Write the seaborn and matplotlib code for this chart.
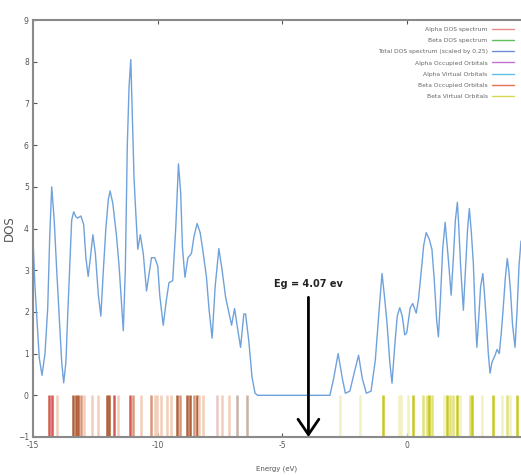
import matplotlib
matplotlib.use("Agg")
import matplotlib.pyplot as plt
import seaborn as sns
import pandas as pd
from matplotlib.lines import Line2D

# ---- data ----
energy = [-15.00, -14.92, -14.85, -14.75, -14.64, -14.52, -14.41, -14.33, -14.25, -14.15,
          -14.05, -13.95, -13.85, -13.77, -13.68, -13.61, -13.52, -13.45, -13.37, -13.28,
          -13.21, -13.08, -12.97, -12.88, -12.79, -12.70, -12.60, -12.50, -12.38, -12.28,
          -12.18, -12.08, -11.98, -11.91, -11.80, -11.65, -11.55, -11.45, -11.38, -11.30,
          -11.22, -11.15, -11.08, -11.01, -10.95, -10.90, -10.80, -10.70, -10.58, -10.45,
          -10.35, -10.25, -10.12, -10.00, -9.92, -9.78, -9.65, -9.55, -9.40, -9.28,
          -9.17, -9.08, -9.01, -8.91, -8.79, -8.65, -8.55, -8.42, -8.30, -8.21,
          -8.05, -7.95, -7.82, -7.70, -7.55, -7.42, -7.28, -7.12, -7.04, -6.92,
          -6.80, -6.68, -6.55, -6.48, -6.35, -6.22, -6.10, -6.00, -3.10, -2.95,
          -2.77, -2.60, -2.48, -2.30, -2.10, -1.95, -1.80, -1.64, -1.45, -1.28,
          -1.12, -1.01, -0.90, -0.81, -0.70, -0.61, -0.50, -0.40, -0.30, -0.20,
          -0.10, -0.02, 0.12, 0.22, 0.36, 0.45, 0.55, 0.66, 0.76, 0.88,
          0.99, 1.08, 1.18, 1.25, 1.33, 1.42, 1.52, 1.60, 1.67, 1.76,
          1.84, 1.93, 2.01, 2.07, 2.14, 2.25, 2.34, 2.42, 2.49, 2.57,
          2.65, 2.72, 2.79, 2.86, 2.94, 3.03, 3.10, 3.18, 3.25, 3.32,
          3.40, 3.52, 3.60, 3.69, 3.77, 3.85, 3.93, 4.01, 4.07, 4.14,
          4.22, 4.32, 4.40, 4.48, 4.56]
total_dos = [3.75, 2.6, 1.9, 0.9, 0.48, 1.0, 2.1, 3.8, 5.0, 4.2,
             3.0, 1.9, 0.8, 0.3, 0.8, 1.9, 3.2, 4.2, 4.4, 4.28,
             4.25, 4.3, 4.1, 3.3, 2.85, 3.3, 3.85, 3.4, 2.4, 1.9,
             3.0, 4.0, 4.7, 4.9, 4.6, 3.8, 3.1, 2.2, 1.55, 3.0,
             6.0, 7.4, 8.05, 6.5, 5.2, 4.6, 3.5, 3.85, 3.4, 2.5,
             2.9, 3.3, 3.3, 3.1, 2.4, 1.68, 2.3, 2.7, 2.75, 4.0,
             5.55, 4.85, 3.55, 2.83, 3.3, 3.4, 3.8, 4.12, 3.9, 3.55,
             2.85, 2.1, 1.37, 2.6, 3.52, 3.0, 2.35, 1.9, 1.68, 2.08,
             1.6, 1.15, 1.95, 1.95, 1.3, 0.43, 0.05, 0.0, 0.0, 0.4,
             1.0, 0.4, 0.05, 0.1, 0.6, 0.96, 0.4, 0.05, 0.1, 0.84,
             2.1, 2.92, 2.3, 1.73, 0.8, 0.29, 1.2, 1.9, 2.1, 1.9,
             1.45, 1.5, 2.1, 2.2, 1.97, 2.3, 2.9, 3.6, 3.9, 3.75,
             3.5, 2.8, 1.8, 1.4, 2.3, 3.5, 4.15, 3.6, 3.1, 2.4,
             3.2, 4.2, 4.63, 4.0, 3.1, 2.04, 3.1, 4.0, 4.48, 3.9,
             3.16, 2.0, 1.15, 1.8, 2.6, 2.92, 2.4, 1.7, 1.0, 0.53,
             0.8, 0.96, 1.1, 1.0, 1.5, 2.11, 2.8, 3.28, 3.0, 2.5,
             1.7, 1.15, 2.0, 3.1, 3.7]

occupied_levels = [-14.35, -14.25, -14.04, -13.41, -13.28, -13.21, -13.08, -12.95, -12.65, -12.41,
                   -12.04, -11.95, -11.77, -11.59, -11.11, -11.01, -10.68, -10.28, -10.12, -10.01,
                   -9.85, -9.64, -9.48, -9.21, -9.11, -8.81, -8.71, -8.55, -8.41, -8.35,
                   -8.17, -7.61, -7.41, -7.15, -6.84, -6.41]
occupied_shade = ["r", "r", "l", "d", "d", "d", "m", "l", "l", "l",
                  "d", "d", "r", "l", "r", "m", "l", "m", "l", "l",
                  "l", "l", "l", "d", "m", "d", "d", "m", "d", "l",
                  "l", "p", "l", "l", "g", "g"]
virtual_levels = [-2.71, -1.88, -0.97, -0.35, -0.25, 0.05, 0.25, 0.65, 0.79, 0.89,
                  0.99, 1.48, 1.59, 1.72, 1.85, 1.99, 2.12, 2.52, 2.59, 2.99,
                  3.45, 3.79, 3.99, 4.12, 4.39]
virtual_shade = ["f", "f", "b", "f", "f", "f", "b", "m", "m", "b",
                 "m", "f", "b", "m", "m", "b", "f", "m", "b", "f",
                 "b", "f", "m", "f", "b"]

legend_labels = ["Alpha DOS spectrum", "Beta DOS spectrum", "Total DOS spectrum (scaled by 0.25)",
                 "Alpha Occupied Orbitals", "Alpha Virtual Orbitals",
                 "Beta Occupied Orbitals", "Beta Virtual Orbitals"]
legend_colors = ["#e88a8a", "#5cbf5c", "#6a8fd8", "#c070d0", "#60c0e8", "#e87050", "#d8d850"]

gap_label = "Eg = 4.07 ev"
gap_x = -3.96
gap_top = 2.35

# ---- styling ----
sns.set_style("white")
plt.rcParams["font.family"] = ["DejaVu Sans"]

occ_colors = {"r": "#d55a55", "d": "#b0603a", "m": "#d9987a", "l": "#f3cdb8",
              "p": "#ecc6c6", "g": "#c9b2a6"}
vir_colors = {"b": "#c8c820", "m": "#e2e27a", "f": "#f1f1c2"}

fig = plt.figure(figsize=(5.21, 4.75), dpi=100)
ax = fig.add_axes([33 / 521, 1 - 437 / 475, 1 - 33 / 521, (437 - 20) / 475])

# orbital levels (vertical sticks from -1 to 0)
for e, s in zip(occupied_levels, occupied_shade):
    ax.vlines(e, -1, 0, color=occ_colors[s], lw=1.8, zorder=1)
for e, s in zip(virtual_levels, virtual_shade):
    ax.vlines(e, -1, 0, color=vir_colors[s], lw=1.8, zorder=1)

df = pd.DataFrame({"Energy": energy, "DOS": total_dos})
sns.lineplot(data=df, x="Energy", y="DOS", ax=ax, color="#6fa2dc", lw=1.0, zorder=2,
             sort=False, estimator=None)

# band gap arrow
ax.annotate("", xy=(gap_x, -1.0), xytext=(gap_x, gap_top),
            arrowprops=dict(arrowstyle="->,head_length=1.1,head_width=0.75",
                            color="black", lw=2.0, shrinkA=0, shrinkB=0), zorder=5)
ax.text(gap_x, gap_top + 0.2, gap_label, ha="center", va="bottom",
        fontsize=7, fontweight="bold", color="#222222", zorder=5)

ax.set_xlim(-15, 4.56)
ax.set_ylim(-1, 9)
ax.set_xticks([-15, -10, -5, 0])
ax.set_xticklabels(["-15", "-10", "-5", "0"])
ax.set_yticks(range(-1, 10))
ax.tick_params(axis="both", direction="in", length=3, width=0.8, color="#555555",
               labelsize=5.5, labelcolor="#555555", pad=3, top=True, bottom=True, left=True)
for side in ["left", "top", "bottom"]:
    ax.spines[side].set_color("#8a8a8a")
    ax.spines[side].set_linewidth(1.5)
ax.spines["right"].set_visible(False)

ax.set_xlabel("Energy (eV)", fontsize=5, color="#555555", labelpad=11)
ax.set_ylabel("DOS", fontsize=8.5, color="#555555", labelpad=1)

handles = [Line2D([0], [0], color=c, lw=1.0) for c in legend_colors]
leg = ax.legend(handles, legend_labels, loc="upper right", markerfirst=False, frameon=False,
                fontsize=4.3, handlelength=3.8, handletextpad=0.7, labelspacing=1.02,
                borderaxespad=0.0, borderpad=1.1)
for t in leg.get_texts():
    t.set_color("#666666")

fig.savefig("out.png", dpi=100)
